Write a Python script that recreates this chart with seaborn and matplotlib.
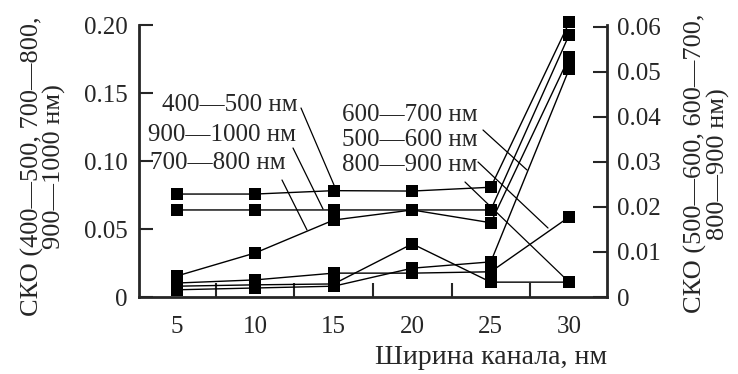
import numpy as np
import pandas as pd
import matplotlib
matplotlib.use('Agg')
import matplotlib.pyplot as plt
from matplotlib.lines import Line2D
import seaborn as sns

# channel width, nm
widths = [5, 10, 15, 20, 25, 30]

# left axis series
s400_500 = [0.0757, 0.0757, 0.0782, 0.0779, 0.0807, 0.202]
s900_1000 = [0.064, 0.064, 0.064, 0.064, 0.064, 0.193]
s700_800 = [0.0154, 0.0324, 0.0566, 0.064, 0.0546, 0.1765]

# right axis series
s600_700 = [0.0016, 0.0020, 0.0024, 0.0064, 0.0078, 0.0507]
s500_600 = [0.0031, 0.0038, 0.0053, 0.0053, 0.0056, 0.0178]
s800_900 = [0.0024, 0.0027, 0.0029, 0.0118, 0.0033, 0.0033]

left_names = ['400—500 нм', '900—1000 нм', '700—800 нм']
right_names = ['600—700 нм', '500—600 нм', '800—900 нм']

left_ticks = [0, 0.05, 0.10, 0.15, 0.20]
left_ticklabels = ['0', '0.05', '0.10', '0.15', '0.20']
right_ticks = [0, 0.01, 0.02, 0.03, 0.04, 0.05, 0.06]
right_ticklabels = ['0', '0.01', '0.02', '0.03', '0.04', '0.05', '0.06']
x_ticklabels = ['5', '10', '15', '20', '25', '30']

df_left = pd.DataFrame({'w': widths * 3,
                        'v': s400_500 + s900_1000 + s700_800,
                        'band': np.repeat(left_names, len(widths))})
df_right = pd.DataFrame({'w': widths * 3,
                         'v': s600_700 + s500_600 + s800_900,
                         'band': np.repeat(right_names, len(widths))})

sns.set_style('ticks')
plt.rcParams['font.family'] = ['Liberation Serif', 'DejaVu Serif']
plt.rcParams['font.size'] = 18

W, H = 738, 374
fig = plt.figure(figsize=(W / 100, H / 100), dpi=100)
ax = fig.add_axes([139 / W, 1 - 297 / H, (607 - 139) / W, (297 - 25) / H])
ax2 = ax.twinx()

line_kw = dict(color='black', marker='s', markersize=9, markeredgewidth=0,
               linewidth=1.0, clip_on=False, legend=False)
for name in left_names:
    sns.lineplot(data=df_left[df_left['band'] == name], x='w', y='v', ax=ax, **line_kw)
for name in right_names:
    sns.lineplot(data=df_right[df_right['band'] == name], x='w', y='v', ax=ax2, **line_kw)

ax.set_xlim(2.6, 32.4)
ax.set_ylim(0, 0.20)
ax2.set_ylim(0, 0.0604)

ax.set_xticks(widths)
ax.set_xticklabels(x_ticklabels)
ax.set_xticks([7.5, 12.5, 17.5, 22.5, 27.5], minor=True)
ax.tick_params(axis='x', which='major', length=0, pad=14)
ax.tick_params(axis='x', which='minor', direction='in', length=10, width=1.5)
ax.set_yticks(left_ticks)
ax.set_yticklabels(left_ticklabels)
ax.tick_params(axis='y', direction='in', length=10, width=1.5, pad=8)
ax2.set_yticks(right_ticks)
ax2.set_yticklabels(right_ticklabels)
ax2.tick_params(axis='y', direction='in', length=10, width=1.5, pad=7)

for a in (ax, ax2):
    a.spines['top'].set_visible(False)
    for s in a.spines.values():
        s.set_linewidth(2)
ax.spines['right'].set_visible(False)
ax2.spines['left'].set_visible(False)
ax2.spines['bottom'].set_visible(False)

ax.set_xlabel('Ширина канала, нм', loc='right', labelpad=5, fontsize=20)
ax.set_ylabel('СКО (400—500, 700—800,\n900—1000 нм)', linespacing=0.95, fontsize=19)
ax.yaxis.set_label_coords(-0.155, 0.48)
ax2.set_ylabel('СКО (500—600, 600—700,\n800—900 нм)', linespacing=0.95, fontsize=19)
ax2.yaxis.set_label_coords(1.165, 0.49)


def fx(x):
    return x / W


def fy(y):
    return 1 - y / H


# labels with pointer lines (image pixel coordinates)
labels = [('400—500 нм', 162, 105, (301, 108), (334, 185)),
          ('900—1000 нм', 148, 135, (293, 148), (323, 209)),
          ('700—800 нм', 150, 163, (282, 180), (307, 230)),
          ('600—700 нм', 342, 115, (483, 130), (527, 170)),
          ('500—600 нм', 342, 140, (478, 162), (548, 228)),
          ('800—900 нм', 342, 165, (465, 182), (569, 282))]
for txt, lx, ly, p0, p1 in labels:
    fig.text(fx(lx), fy(ly), txt, ha='left', va='center')
    fig.add_artist(Line2D([fx(p0[0]), fx(p1[0])], [fy(p0[1]), fy(p1[1])],
                          color='black', linewidth=0.9, transform=fig.transFigure))

fig.savefig('out.png', dpi=100)
